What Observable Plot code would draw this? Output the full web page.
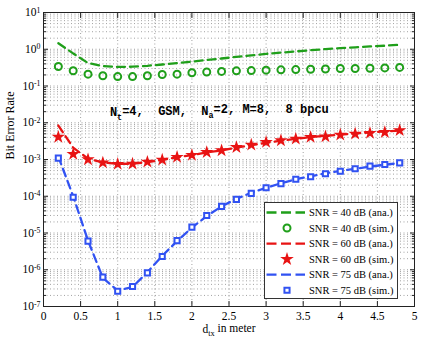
<!DOCTYPE html>
<html><head><meta charset="utf-8">
<script src="https://cdn.jsdelivr.net/npm/d3@7"></script>
<script src="https://cdn.jsdelivr.net/npm/@observablehq/plot@0.6"></script>
<style>
html,body{margin:0;padding:0;background:#fff;}
#wrap{position:relative;width:424px;height:346px;}
#wrap svg text{font-family:'Liberation Serif', serif;}
#wrap svg text.mono{font-family:'Liberation Mono', monospace;}
#legend{position:absolute;left:264px;top:202px;width:132px;height:95px;border:1px solid #333;background:#fff;}
</style></head><body><div id="wrap"></div>
<script>
// ---- data ----
const distance = [0.2,0.4,0.6,0.8,1.0,1.2,1.4,1.6,1.8,2.0,2.2,2.4,2.6,2.8,3.0,3.2,3.4,3.6,3.8,4.0,4.2,4.4,4.6,4.8];
const ber40Ana = [1.46,0.77,0.42,0.35,0.33,0.335,0.355,0.385,0.42,0.46,0.51,0.56,0.62,0.68,0.75,0.81,0.87,0.94,1.01,1.07,1.13,1.19,1.25,1.32];
const ber40Sim = [0.34,0.26,0.21,0.19,0.18,0.18,0.19,0.205,0.21,0.23,0.24,0.249,0.259,0.263,0.27,0.275,0.28,0.285,0.29,0.30,0.30,0.305,0.31,0.32];
const ber60Ana = [8.4e-3,2.1e-3,1.05e-3,8.3e-4,7.6e-4,7.7e-4,8.5e-4,9.8e-4,1.15e-3,1.32e-3,1.55e-3,1.78e-3,2.1e-3,2.45e-3,2.85e-3,3.25e-3,3.65e-3,4.05e-3,4.4e-3,4.75e-3,5.1e-3,5.45e-3,5.8e-3,6.1e-3];
const ber60Sim = [4.1e-3,1.4e-3,1.0e-3,8.2e-4,7.5e-4,7.6e-4,8.6e-4,9.8e-4,1.16e-3,1.31e-3,1.58e-3,1.76e-3,2.16e-3,2.5e-3,2.96e-3,3.3e-3,3.65e-3,4.05e-3,4.2e-3,4.7e-3,5.0e-3,5.2e-3,5.5e-3,6.2e-3];
const ber75Ana = [1.2e-3,1.0e-4,6.2e-6,6.0e-7,2.7e-7,3.4e-7,8.5e-7,2.4e-6,6.0e-6,1.4e-5,2.9e-5,5.3e-5,8.5e-5,1.25e-4,1.7e-4,2.25e-4,2.9e-4,3.5e-4,4.2e-4,4.9e-4,5.6e-4,6.4e-4,7.2e-4,8.0e-4];
const ber75Sim = [1.09e-3,9.4e-5,6.0e-6,6.3e-7,2.6e-7,3.5e-7,8.2e-7,2.3e-6,6.2e-6,1.44e-5,3.0e-5,5.3e-5,8.2e-5,1.2e-4,1.7e-4,2.2e-4,2.9e-4,3.4e-4,4.1e-4,4.8e-4,5.6e-4,6.6e-4,7.3e-4,8.1e-4];

const xTicks = [0,0.5,1,1.5,2,2.5,3,3.5,4,4.5,5];
const xTickLabels = ["0","0.5","1","1.5","2","2.5","3","3.5","4","4.5","5"];
const yExponents = [-7,-6,-5,-4,-3,-2,-1,0,1];
const minorMultipliers = [2,3,4,5,6,7,8,9];
const legendLabels = ["SNR = 40 dB (ana.)","SNR = 40 dB (sim.)","SNR = 60 dB (ana.)","SNR = 60 dB (sim.)","SNR = 75 dB (ana.)","SNR = 75 dB (sim.)"];
const annotationX = [2.37];
const annotationY = [0.019];
const yLabel = "Bit Error Rate";

// ---- style ----
const green = "#1f9f1a", red = "#e81313", blue = "#3152f2";
const dash = "8,5";
const serif = "'Liberation Serif', serif";

const yMajor = yExponents.map(e => Math.pow(10, e));
const yMinor = [];
for (const e of yExponents.slice(0, -1)) for (const m of minorMultipliers) yMinor.push(m * Math.pow(10, e));
const yAll = yMajor.concat(yMinor);

const rows = vals => distance.map((d, i) => ({d, v: vals[i]}));
const gridStyle = {stroke: "#8a8a8a", strokeOpacity: 1, strokeWidth: 0.8, strokeDasharray: "1,2.5"};

const plot = Plot.plot({
  width: 424, height: 346,
  marginLeft: 43, marginRight: 10, marginTop: 12, marginBottom: 40,
  style: {fontFamily: serif, fontSize: "11.5px", background: "#fff", color: "#000"},
  x: {domain: [0, 5]},
  y: {type: "log", domain: [1e-7, 10]},
  marks: [
    Plot.gridY(yAll, gridStyle),
    Plot.gridX(xTicks, gridStyle),
    Plot.line(rows(ber40Ana), {x: "d", y: "v", stroke: green, strokeWidth: 2.3, strokeDasharray: dash}),
    Plot.line(rows(ber60Ana), {x: "d", y: "v", stroke: red, strokeWidth: 2.3, strokeDasharray: dash}),
    Plot.line(rows(ber75Ana), {x: "d", y: "v", stroke: blue, strokeWidth: 2.3, strokeDasharray: dash}),
    Plot.dot(rows(ber40Sim), {x: "d", y: "v", symbol: "circle", r: 3.5, stroke: green, strokeWidth: 2, fill: "none"}),
    Plot.dot(rows(ber60Sim), {x: "d", y: "v", symbol: "star", r: 4.2, fill: red, stroke: "none"}),
    Plot.dot(rows(ber75Sim), {x: "d", y: "v", symbol: "square", r: 2.9, stroke: blue, strokeWidth: 2, fill: "#fff"}),
    Plot.frame({stroke: "#222", strokeWidth: 1}),
    // labeled axes
    Plot.axisY({ticks: yMajor, tickSize: 0, tickPadding: 3, fontFamily: serif, fontSize: 11.5, tickFormat: d => "10^" + Math.round(Math.log10(d)), label: null}),
    Plot.axisX({ticks: xTicks, tickSize: 0, tickPadding: 5, fontFamily: serif, fontSize: 11.5, tickFormat: (d, i) => xTickLabels[i], label: null}),
    // inside ticks
    Plot.axisY({anchor: "left", ticks: yMajor, tickSize: -5, tickFormat: () => "", label: null, stroke: "#222"}),
    Plot.axisY({anchor: "left", ticks: yMinor, tickSize: -3, tickFormat: () => "", label: null, stroke: "#222"}),
    Plot.axisY({anchor: "right", ticks: yMajor, tickSize: -5, tickFormat: () => "", label: null, stroke: "#222"}),
    Plot.axisY({anchor: "right", ticks: yMinor, tickSize: -3, tickFormat: () => "", label: null, stroke: "#222"}),
    Plot.axisX({anchor: "bottom", ticks: xTicks, tickSize: -5, tickFormat: () => "", label: null, stroke: "#222"}),
    Plot.axisX({anchor: "top", ticks: xTicks, tickSize: -5, tickFormat: () => "", label: null, stroke: "#222"}),
    // axis titles
    Plot.text([yLabel], {frameAnchor: "left", rotate: -90, dx: -33, text: d => d, fontFamily: serif, fontSize: 12, lineAnchor: "middle"}),
    Plot.text(["XLABEL"], {frameAnchor: "bottom", dy: 23, text: d => d, fontFamily: serif, fontSize: 11.5, lineAnchor: "middle"}),
    Plot.text(["ANNOT"], {x: () => annotationX[0], y: () => annotationY[0], text: d => d, fontFamily: "'Liberation Mono', monospace", fontWeight: "bold", fontSize: 12, lineAnchor: "middle"})
  ]
});

const svg = d3.select(plot);
svg.selectAll("text").each(function() {
  const t = this.textContent;
  const sel = d3.select(this);
  let m = /^10\^(-?\d+)$/.exec(t);
  if (m) {
    sel.text("10");
    sel.append("tspan").attr("dy", "-0.45em").attr("font-size", "0.68em").text(m[1]);
  } else if (t === "XLABEL") {
    sel.text("d");
    sel.append("tspan").attr("dy", "0.35em").attr("font-size", "0.72em").text("tx");
    sel.append("tspan").attr("dy", "-0.35em").text(" in meter");
  } else if (t === "ANNOT") {
    sel.classed("mono", true).style("white-space", "pre");
    sel.text("N");
    sel.append("tspan").attr("dy", "0.4em").attr("font-size", "0.7em").text("t");
    sel.append("tspan").attr("dy", "-0.4em").text("=4,  GSM,  N");
    sel.append("tspan").attr("dy", "0.4em").attr("font-size", "0.7em").text("a");
    sel.append("tspan").attr("dy", "-0.4em").text("=2, M=8,  8 bpcu");
  }
});

const wrap = document.getElementById("wrap");
wrap.appendChild(plot);

// ---- legend (overlay inside the plot) ----
const legendDiv = document.createElement("div");
legendDiv.id = "legend";
wrap.appendChild(legendDiv);
const lg = d3.select(legendDiv).append("svg").attr("width", 132).attr("height", 95)
  .style("font-family", serif).style("font-size", "10.5px");
const legendKinds = [
  {type: "line", color: green}, {type: "circle", color: green},
  {type: "line", color: red}, {type: "star", color: red},
  {type: "line", color: blue}, {type: "square", color: blue}
];
legendKinds.forEach((k, i) => {
  const y = 9.5 + i * 15.55;
  const g = lg.append("g").attr("transform", `translate(0,${y})`);
  if (k.type === "line") {
    g.append("line").attr("x1", 1.5).attr("x2", 40).attr("y1", 0).attr("y2", 0)
      .attr("stroke", k.color).attr("stroke-width", 2.3).attr("stroke-dasharray", "10,4.5");
  } else if (k.type === "circle") {
    g.append("path").attr("transform", "translate(22,0)").attr("d", d3.symbol(d3.symbolCircle, Math.PI * 3.5 * 3.5)())
      .attr("fill", "none").attr("stroke", k.color).attr("stroke-width", 2);
  } else if (k.type === "star") {
    g.append("path").attr("transform", "translate(22,0)").attr("d", d3.symbol(d3.symbolStar, Math.PI * 4.3 * 4.3)())
      .attr("fill", k.color);
  } else {
    g.append("path").attr("transform", "translate(22,0)").attr("d", d3.symbol(d3.symbolSquare, Math.PI * 2.9 * 2.9)())
      .attr("fill", "#fff").attr("stroke", k.color).attr("stroke-width", 2);
  }
  g.append("text").attr("x", 44).attr("y", 0).attr("dy", "0.35em").style("font-family", serif).text(legendLabels[i]);
});
</script></body></html>
